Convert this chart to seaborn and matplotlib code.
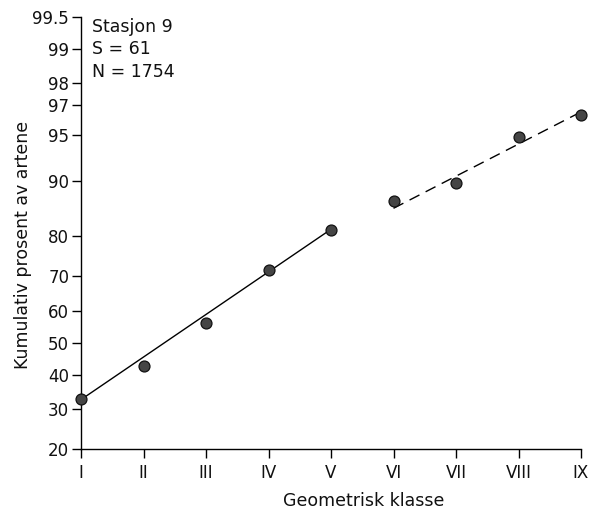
import numpy as np
import pandas as pd
import matplotlib
matplotlib.use('Agg')
import matplotlib.pyplot as plt
import seaborn as sns
from matplotlib.ticker import FixedLocator, FixedFormatter, NullLocator
from statistics import NormalDist

# ---- data ----
classes = ['I', 'II', 'III', 'IV', 'V', 'VI', 'VII', 'VIII', 'IX']
class_pos = [1, 2, 3, 4, 5, 6, 7, 8, 9]
cum_percent = [32.7, 42.6, 56.2, 71.6, 81.4, 86.9, 89.7, 94.8, 96.4]
solid_x = [1, 5]
solid_y = [32.6, 81.5]
dashed_x = [6, 9]
dashed_y = [85.6, 96.6]
y_ticks = [20, 30, 40, 50, 60, 70, 80, 90, 95, 97, 98, 99, 99.5]
y_tick_labels = ['20', '30', '40', '50', '60', '70', '80', '90', '95', '97', '98', '99', '99.5']
annotation = 'Stasjon 9\nS = 61\nN = 1754'

# ---- probit scale ----
_nd = NormalDist()
_ppf = np.vectorize(lambda v: _nd.inv_cdf(v / 100.0) if v == v else np.nan, otypes=[float])
_cdf = np.vectorize(lambda v: 100.0 * _nd.cdf(v) if v == v else np.nan, otypes=[float])


def _fwd(p):
    p = np.clip(np.asarray(p, dtype=float), 1e-9, 100 - 1e-9)
    return _ppf(p)


def _inv(z):
    z = np.clip(np.asarray(z, dtype=float), -30, 30)
    return _cdf(z)


sns.set_style('ticks')
plt.rcParams['font.family'] = ['DejaVu Sans']

fig = plt.figure(figsize=(5.99, 5.18), dpi=100)
W, H = 599, 518
ax = fig.add_axes([81 / W, 1 - 449 / H, 500 / W, 432 / H])
ax.set_yscale('function', functions=(_fwd, _inv))

sns.lineplot(x=solid_x, y=solid_y, ax=ax, color='black', lw=1.0)
sns.lineplot(x=dashed_x, y=dashed_y, ax=ax, color='black', lw=1.0, linestyle=(0, (8, 5)))
sns.scatterplot(x=class_pos, y=cum_percent, ax=ax, s=62, color='#454545',
                edgecolor='#111111', linewidth=0.9, zorder=3, clip_on=False)

ax.set_xlim(1, 9)
ax.set_ylim(20, 99.5)
ax.set_xticks(class_pos)
ax.set_xticklabels(classes)
ax.yaxis.set_major_locator(FixedLocator(y_ticks))
ax.yaxis.set_major_formatter(FixedFormatter(y_tick_labels))
ax.yaxis.set_minor_locator(NullLocator())

sns.despine(ax=ax)
for s in ['left', 'bottom']:
    ax.spines[s].set_linewidth(1.0)
    ax.spines[s].set_color('black')
ax.tick_params(axis='both', direction='out', length=6.5, width=1.0, color='black',
               labelsize=12, labelcolor='#111111')
ax.tick_params(axis='y', pad=2)
ax.tick_params(axis='x', pad=4)

ax.set_ylabel('Kumulativ prosent av artene', fontsize=12.5, color='#111111')
ax.yaxis.set_label_coords(-0.098, 0.472)
ax.set_xlabel('Geometrisk klasse', fontsize=12.5, color='#111111')
ax.xaxis.set_label_coords(0.565, -0.1)

ax.text(0.022, 0.997, annotation, transform=ax.transAxes, ha='left', va='top',
        fontsize=12.5, linespacing=1.3, color='#111111')

fig.savefig('out.png', dpi=100)
